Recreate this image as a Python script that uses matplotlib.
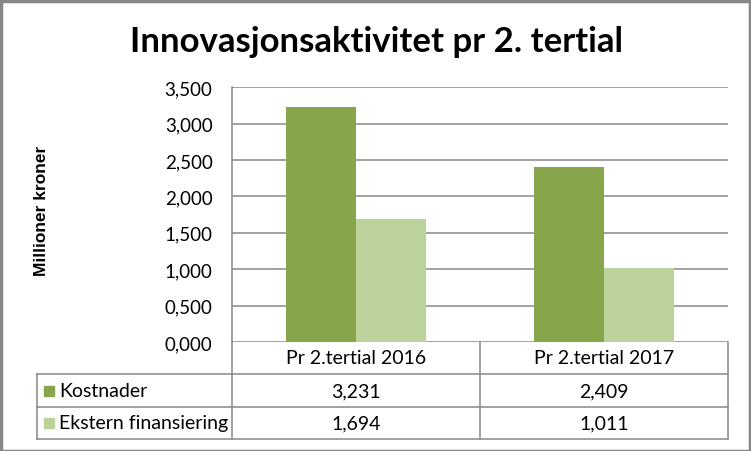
import matplotlib
matplotlib.use("Agg")
import matplotlib.pyplot as plt
from matplotlib.patches import Rectangle
from matplotlib.lines import Line2D

categories = ["Pr 2.tertial 2016", "Pr 2.tertial 2017"]
series_names = ["Kostnader", "Ekstern finansiering"]
kostnader = [3231, 2409]
ekstern = [1694, 1011]
value_labels = [["3,231", "2,409"], ["1,694", "1,011"]]
yticks = [0, 500, 1000, 1500, 2000, 2500, 3000, 3500]
ytick_labels = ["0,000", "0,500", "1,000", "1,500", "2,000", "2,500", "3,000", "3,500"]

colors = ["#87A64C", "#BCD29B"]
grid_c = "#878787"
W, H = 751, 452
FONT = "Lato"

fig = plt.figure(figsize=(W / 100, H / 100), dpi=100)
fig.patch.set_facecolor("white")

def fx(px):
    return px / W

def fy(py):
    return 1 - py / H

# plot area
x0, x1, ytop, ybot = 232, 728, 88.3, 343
ax = fig.add_axes([fx(x0), fy(ybot), fx(x1 - x0), (ybot - ytop) / H])
ax.set_xlim(0, 2)
ax.set_ylim(0, 3500)
bw = 70 / 248
for i in range(2):
    ax.bar(i + 0.5 - bw / 2, kostnader[i], width=bw, color=colors[0], zorder=3)
    ax.bar(i + 0.5 + bw / 2, ekstern[i], width=bw, color=colors[1], zorder=3)
ax.set_yticks(yticks)
ax.set_yticklabels(ytick_labels, fontfamily=FONT, fontsize=13.5)
ax.tick_params(axis="y", length=0, pad=14)
ax.set_xticks([])
ax.yaxis.grid(True, color=grid_c, linewidth=1.1)
ax.set_axisbelow(True)
for s in ["top", "right", "bottom"]:
    ax.spines[s].set_visible(False)
ax.spines["left"].set_color(grid_c)
ax.spines["left"].set_linewidth(1.1)

# data table
tleft = 37
rows_y = [343, 375, 408, 440]
cols_x = [tleft, 232, 480, 728]
lines = []
lines.append(([232, 728], [375, 375]))
lines.append(([232, 232], [343, 440]))
lines.append(([480, 480], [343, 440]))
lines.append(([728, 728], [343, 440]))
lines.append(([tleft, 728], [408, 408]))
lines.append(([tleft, 728], [440, 440]))
lines.append(([tleft, 232], [375, 375]))
lines.append(([tleft, tleft], [375, 440]))
for xs, ys in lines:
    fig.add_artist(Line2D([fx(v) for v in xs], [fy(v) for v in ys], color=grid_c, linewidth=1.1))

TS = 14
for j, cat in enumerate(categories):
    cx = (cols_x[j + 1] + cols_x[j + 2]) / 2
    fig.text(fx(cx), fy((rows_y[0] + rows_y[1]) / 2), cat, ha="center", va="center",
             fontfamily=FONT, fontsize=TS)
    for r in range(2):
        fig.text(fx(cx), fy((rows_y[r + 1] + rows_y[r + 2]) / 2), value_labels[r][j],
                 ha="center", va="center", fontfamily=FONT, fontsize=TS)
for r, name in enumerate(series_names):
    cy = (rows_y[r + 1] + rows_y[r + 2]) / 2
    fig.add_artist(Rectangle((fx(44), fy(cy + 5)), 10 / W, 10 / H, color=colors[r],
                             transform=fig.transFigure))
    fig.text(fx(59), fy(cy), name, ha="left", va="center", fontfamily=FONT, fontsize=TS)

# title and y label
fig.text(fx(376), fy(42), "Innovasjonsaktivitet pr 2. tertial", ha="center", va="center",
         fontfamily=FONT, fontweight="bold", fontsize=25)
fig.text(fx(42), fy(211), "Millioner kroner", ha="center", va="center", rotation=90,
         fontfamily="Liberation Sans", fontweight="bold", fontsize=12.5)

# outer frame
fig.add_artist(Rectangle((0.5 / W, 0.5 / H), 1 - 2 / W, 1 - 2 / H, fill=False,
                         edgecolor="#878787", linewidth=2.5, transform=fig.transFigure))

fig.savefig("out.png", dpi=100)
